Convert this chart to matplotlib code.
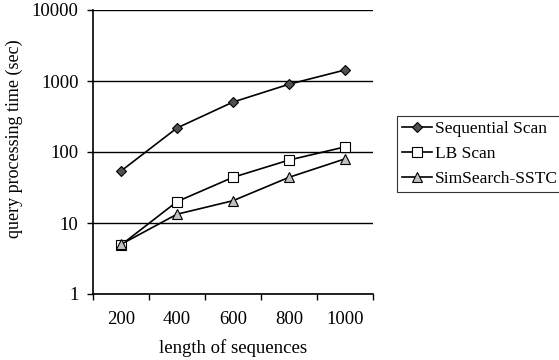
import matplotlib
matplotlib.use("Agg")
import matplotlib.pyplot as plt
from matplotlib.ticker import FixedLocator, NullLocator

categories = ["200", "400", "600", "800", "1000"]
sequential = [54, 218, 505, 900, 1430]
lb_scan = [4.9, 20, 44, 77, 118]
simsearch = [5.0, 13.3, 20.6, 44, 80]

plt.rcParams['font.family'] = ['Liberation Serif', 'DejaVu Serif']

fig = plt.figure(figsize=(5.59, 3.6), dpi=100)
ax = fig.add_axes([93/559, 1-294/360, 280/559, 284/360])

x = list(range(len(categories)))
ax.plot(x, sequential, color='black', lw=1.2, marker='D', ms=5.5,
        mfc='#505050', mec='black', mew=0.8, label='Sequential Scan')
ax.plot(x, lb_scan, color='black', lw=1.2, marker='s', ms=7,
        mfc='white', mec='black', mew=0.8, label='LB Scan')
ax.plot(x, simsearch, color='black', lw=1.2, marker='^', ms=7,
        mfc='#c0c0c0', mec='black', mew=0.8, label='SimSearch-SSTC')

ax.set_yscale('log')
ax.set_ylim(1, 10000)
ax.set_xlim(-0.5, len(categories) - 0.5)
ax.yaxis.set_major_locator(FixedLocator([1, 10, 100, 1000, 10000]))
ax.yaxis.set_minor_locator(NullLocator())
ax.set_yticklabels(['1', '10', '100', '1000', '10000'])
ax.grid(axis='y', which='major', color='black', lw=1.0)
ax.set_axisbelow(True)

ax.set_xticks([i - 0.5 for i in range(len(categories) + 1)])
ax.set_xticklabels([''] * (len(categories) + 1))
ax.set_xticks(x, minor=True)
ax.set_xticklabels(categories, minor=True)
ax.tick_params(axis='x', which='minor', length=0, pad=12, labelsize=13.5)
ax.tick_params(axis='x', which='major', length=4.5, width=1, direction='out')
ax.tick_params(axis='y', length=4.5, width=1, direction='out', labelsize=13.5, pad=6)

for s in ['top', 'right']:
    ax.spines[s].set_visible(False)
for s in ['left', 'bottom']:
    ax.spines[s].set_linewidth(1.2)

ax.set_xlabel('length of sequences', fontsize=13.5, labelpad=8)
ax.set_ylabel('query processing time (sec)', fontsize=13)
ax.yaxis.set_label_coords(-0.25, 0.547)

leg = fig.legend(loc='upper left', bbox_to_anchor=(397/559, 1-116/360),
                 fontsize=12.5, frameon=True, fancybox=False, edgecolor='black',
                 handlelength=1.7, handletextpad=0.2, borderpad=0.3,
                 labelspacing=0.5, borderaxespad=0)
leg.get_frame().set_linewidth(0.8)

fig.savefig('out.png', dpi=100)
